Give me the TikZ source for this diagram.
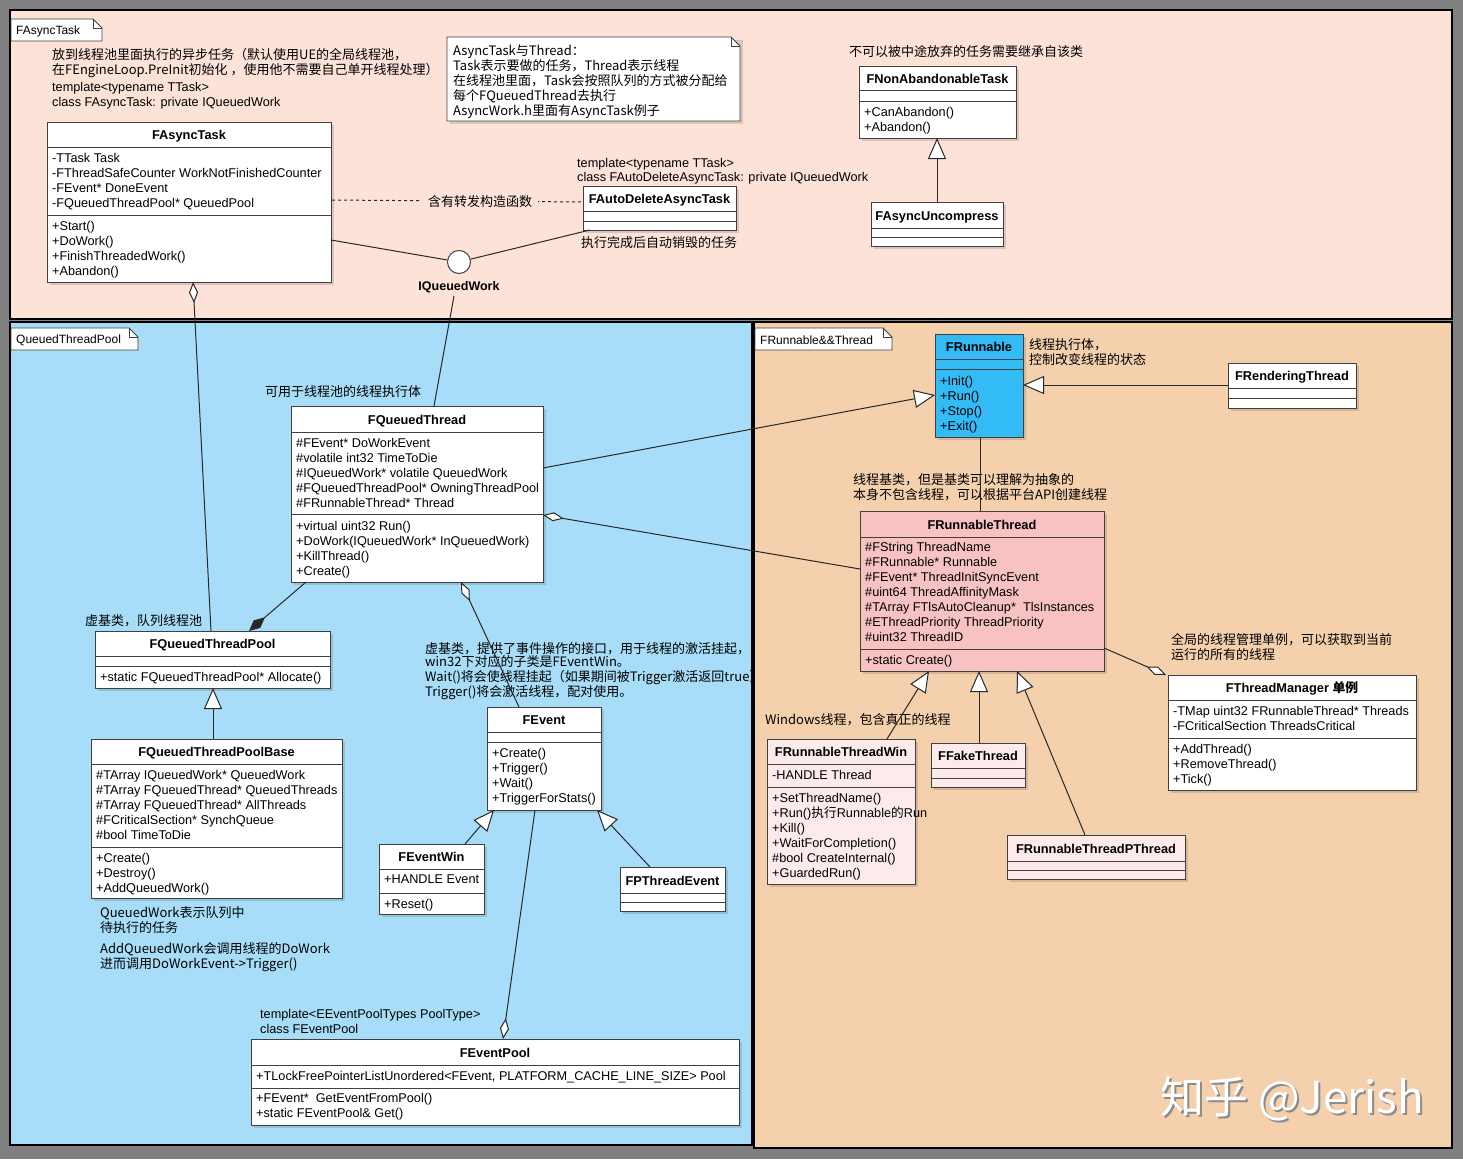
\documentclass[tikz,border=0pt]{standalone}
\usepackage{fontspec}
\setmainfont{Liberation Sans}
\newfontfamily\cjk{Noto Sans CJK SC}
\usetikzlibrary{arrows.meta,calc,fit}
\definecolor{bggray}{RGB}{128,128,128}
\definecolor{pinkbg}{RGB}{253,226,216}
\definecolor{bluebg}{RGB}{167,221,248}
\definecolor{orangebg}{RGB}{244,208,172}
\definecolor{runblue}{RGB}{51,187,245}
\definecolor{rtpink}{RGB}{248,194,194}
\definecolor{lpink}{RGB}{253,235,235}
\definecolor{clsborder}{RGB}{64,64,64}
\definecolor{linec}{RGB}{40,40,40}
\tikzset{
  pkgframe/.style={draw=black, line width=2pt},
  tabline/.style={draw=clsborder, line width=0.8pt},
  tabtext/.style={anchor=west, inner sep=0pt, font=\fontsize{12}{14}\selectfont},
  clsbox/.style={draw=clsborder, line width=1pt, inner sep=0pt, outer sep=0pt},
  clsline/.style={draw=clsborder, line width=1pt},
  ctitle/.style={anchor=base, inner sep=0pt, font=\fontsize{12.8}{15}\selectfont\bfseries},
  mem/.style={anchor=north west, inner sep=0pt, align=left, font=\fontsize{12.7}{15}\selectfont},
  zh/.style={anchor=north west, inner sep=0pt, align=left, font=\cjk\fontsize{13}{15}\selectfont},
  lat/.style={anchor=north west, inner sep=0pt, align=left, font=\fontsize{12.7}{15}\selectfont},
  conn/.style={draw=linec, line width=1pt},
  inherit/.style={conn, -{Triangle[length=21pt, width=18pt, fill=white]}},
  agg/.style={conn, -{Diamond[length=21pt, width=9pt, fill=white]}},
  comp/.style={conn, -{Diamond[length=21pt, width=10pt, fill=linec]}},
}
% name, fill, x1, y1, x2, y2, sep1, sep2, title
\newcommand\umlcls[9]{%
  \fill[black, opacity=0.13] (#3+3,#4+3) rectangle (#5+3,#6+3);
  \node[clsbox, fill=#2, fit={(#3,#4) (#5,#6)}] (#1) {};
  \draw[clsline] (#3,#7) -- (#5,#7) (#3,#8) -- (#5,#8);
  \node[ctitle] (#1-title) at ({(#3+#5)/2},{(#4+#7)/2+5}) {#9};
}
\begin{document}
\begin{tikzpicture}[x=1pt,y=-1pt]
\useasboundingbox (0,0) rectangle (1463,1159);
\fill[bggray] (0,0) rectangle (1463,1159);

% ---------- package frames ----------
\draw[pkgframe, fill=pinkbg] (10,10) rectangle (1452,319);
\draw[pkgframe, fill=bluebg] (10,322) rectangle (752,1145);
\draw[pkgframe, fill=orangebg] (754,322) rectangle (1452,1148);

\draw[tabline, fill=white] (11,19) -- (93,19) -- (102,28) -- (102,41) -- (11,41) -- cycle;
\draw[tabline] (93,19) -- (93,28) -- (102,28);
\node[tabtext] (tab1) at (16,31) {FAsyncTask};
\draw[tabline, fill=white] (11,328) -- (129,328) -- (138,337) -- (138,350) -- (11,350) -- cycle;
\draw[tabline] (129,328) -- (129,337) -- (138,337);
\node[tabtext] (tab2) at (16,340) {QueuedThreadPool};
\draw[tabline, fill=white] (755,328) -- (883,328) -- (892,337) -- (892,350) -- (755,350) -- cycle;
\draw[tabline] (883,328) -- (883,337) -- (892,337);
\node[tabtext] (tab3) at (760,340) {FRunnable\&\&Thread};

% ---------- note ----------
\fill[black, opacity=0.13] (450,40) rectangle (743,124);
\draw[tabline, fill=white] (447,37) -- (731,37) -- (740,46) -- (740,121) -- (447,121) -- cycle;
\draw[tabline] (731,37) -- (731,46) -- (740,46);
\node[zh, font=\cjk\fontsize{13}{14.8}\selectfont] (ntask) at (453,45) {AsyncTask与Thread：\\Task表示要做的任务，Thread表示线程\\在线程池里面，Task会按照队列的方式被分配给\\每个FQueuedThread去执行\\AsyncWork.h里面有AsyncTask例子};

% ---------- classes ----------
\umlcls{fasync}{white}{47}{122}{331}{282}{147}{215}{FAsyncTask}
\node[mem] (fasync-a) at (52,153) {-TTask Task\\-FThreadSafeCounter WorkNotFinishedCounter\\-FEvent* DoneEvent\\-FQueuedThreadPool* QueuedPool};
\node[mem] (fasync-m) at (52,221) {+Start()\\+DoWork()\\+FinishThreadedWork()\\+Abandon()};

\umlcls{fnonab}{white}{859}{66}{1016}{138}{90}{101}{FNonAbandonableTask}
\node[mem] (fnonab-m) at (864,107) {+CanAbandon()\\+Abandon()};
\umlcls{fasyncun}{white}{871}{202}{1003}{246}{228}{237}{FAsyncUncompress}
\umlcls{fadel}{white}{583}{186}{736}{230}{211}{221}{FAutoDeleteAsyncTask}

\node[circle, draw=clsborder, fill=white, line width=1pt, minimum size=23pt, inner sep=0pt] (iqw) at (459,262) {};
\node[inner sep=1pt, font=\fontsize{12.5}{15}\selectfont\bfseries] (iqwl) at (459,287) {IQueuedWork};

\umlcls{fqt}{white}{291}{406}{543}{582}{432}{514}{FQueuedThread}
\node[mem] (fqt-a) at (296,438) {\#FEvent* DoWorkEvent\\\#volatile int32 TimeToDie\\\#IQueuedWork* volatile QueuedWork\\\#FQueuedThreadPool* OwningThreadPool\\\#FRunnableThread* Thread};
\node[mem] (fqt-m) at (296,521) {+virtual uint32 Run()\\+DoWork(IQueuedWork* InQueuedWork)\\+KillThread()\\+Create()};

\umlcls{fqtp}{white}{95}{631}{330}{688}{656}{666}{FQueuedThreadPool}
\node[mem] (fqtp-m) at (100,672) {+static FQueuedThreadPool* Allocate()};

\umlcls{fqtpb}{white}{91}{739}{342}{898}{764}{847}{FQueuedThreadPoolBase}
\node[mem] (fqtpb-a) at (96,770) {\#TArray IQueuedWork* QueuedWork\\\#TArray FQueuedThread* QueuedThreads\\\#TArray FQueuedThread* AllThreads\\\#FCriticalSection* SynchQueue\\\#bool TimeToDie};
\node[mem] (fqtpb-m) at (96,853) {+Create()\\+Destroy()\\+AddQueuedWork()};

\umlcls{fevent}{white}{487}{707}{601}{810}{732}{742}{FEvent}
\node[mem] (fevent-m) at (492,748) {+Create()\\+Trigger()\\+Wait()\\+TriggerForStats()};

\umlcls{feventwin}{white}{379}{844}{484}{914}{869}{893}{FEventWin}
\node[mem] (feventwin-a) at (384,875) {+HANDLE Event};
\node[mem] (feventwin-m) at (384,899) {+Reset()};

\umlcls{fpthreadev}{white}{620}{867}{725}{911}{893}{902}{FPThreadEvent}

\umlcls{feventpool}{white}{251}{1039}{739}{1125}{1065}{1088}{FEventPool}
\node[mem] (feventpool-a) at (256,1071) {+TLockFreePointerListUnordered<FEvent, PLATFORM\_CACHE\_LINE\_SIZE> Pool};
\node[mem] (feventpool-m) at (256,1093) {+FEvent*\ \ GetEventFromPool()\\+static FEventPool\& Get()};

\umlcls{frunnable}{runblue}{935}{334}{1023}{437}{359}{369}{FRunnable}
\node[mem] (frunnable-m) at (940,376) {+Init()\\+Run()\\+Stop()\\+Exit()};

\umlcls{frender}{white}{1228}{363}{1356}{408}{388}{398}{FRenderingThread}

\umlcls{frt}{rtpink}{860}{511}{1104}{671}{537}{649}{FRunnableThread}
\node[mem] (frt-a) at (865,542) {\#FString ThreadName\\\#FRunnable* Runnable\\\#FEvent* ThreadInitSyncEvent\\\#uint64 ThreadAffinityMask\\\#TArray FTlsAutoCleanup*\ \ TlsInstances\\\#EThreadPriority ThreadPriority\\\#uint32 ThreadID};
\node[mem] (frt-m) at (865,655) {+static Create()};

\umlcls{ftm}{white}{1168}{675}{1416}{790}{700}{738}{FThreadManager {\cjk 单例}}
\node[mem] (ftm-a) at (1173,706) {-TMap uint32 FRunnableThread* Threads\\-FCriticalSection ThreadsCritical};
\node[mem] (ftm-m) at (1173,744) {+AddThread()\\+RemoveThread()\\+Tick()};

\umlcls{frtwin}{lpink}{767}{739}{915}{884}{764}{787}{FRunnableThreadWin}
\node[mem] (frtwin-a) at (772,770) {-HANDLE Thread};
\node[mem] (frtwin-m) at (772,793) {+SetThreadName()\\+Run(){\cjk 执行}Runnable{\cjk 的}Run\\+Kill()\\+WaitForCompletion()\\\#bool CreateInternal()\\+GuardedRun()};

\umlcls{ffake}{lpink}{931}{743}{1025}{787}{768}{778}{FFakeThread}
\umlcls{frtp}{lpink}{1007}{835}{1185}{879}{861}{870}{FRunnableThreadPThread}

% ---------- free texts ----------
\node[zh] (tasyncdesc) at (52,48) {放到线程池里面执行的异步任务（默认使用UE的全局线程池，\\在FEngineLoop.PreInit初始化 ，使用他不需要自己单开线程处理）};
\node[lat] (tasynctpl) at (52,82) {template<typename TTask>\\class FAsyncTask: private IQueuedWork};
\node[zh] (tnonab) at (849,45) {不可以被中途放弃的任务需要继承自该类};
\node[lat, font=\fontsize{12.7}{14.5}\selectfont] (tadeltpl) at (577,158) {template<typename TTask>\\class FAutoDeleteAsyncTask: private IQueuedWork};
\node[zh] (tadeldesc) at (581,236) {执行完成后自动销毁的任务};
\node[zh] (tqtdesc) at (265,385) {可用于线程池的线程执行体};
\node[zh] (tqtpdesc) at (85,614) {虚基类，队列线程池};
\node[zh] (teventdesc) at (425,642) {虚基类，提供了事件操作的接口，用于线程的激活挂起，\\[-2pt]win32下对应的子类是FEventWin。\\Wait()将会使线程挂起（如果期间被Trigger激活返回true）\\Trigger()将会激活线程，配对使用。};
\node[zh] (tqwdesc) at (100,906) {QueuedWork表示队列中\\待执行的任务};
\node[zh] (taqwdesc) at (100,942) {AddQueuedWork会调用线程的DoWork\\进而调用DoWorkEvent->Trigger()};
\node[lat] (tpooltpl) at (260,1009) {template<EEventPoolTypes PoolType>\\class FEventPool};
\node[zh] (trunnabledesc) at (1029,338) {线程执行体，\\控制改变线程的状态};
\node[zh] (tfrtdesc) at (853,473) {线程基类，但是基类可以理解为抽象的\\本身不包含线程，可以根据平台API创建线程};
\node[zh] (tftmdesc) at (1171,633) {全局的线程管理单例，可以获取到当前\\运行的所有的线程};
\node[zh] (twindesc) at (765,713) {Windows线程，包含真正的线程};

% ---------- helper coordinates ----------
\coordinate (runbot) at ($(frunnable.south)+(1,0)$);
\coordinate (faketop) at ($(ffake.north west)+(48,0)$);

% ---------- connectors ----------
\draw[conn] ($(fasync.north east)+(0,118)$) -- (iqw);
\draw[conn] (iqw) -- ($(fadel.south west)+(7,0)$);
\draw[conn] ($(iqwl.south)+(-5,2)$) -- ($(fqt.north west)+(143,0)$);
\draw[conn, dash pattern=on 3pt off 3pt] ($(fasync.north east)+(1,78)$) -- node[pos=0.59, fill=pinkbg, inner xsep=6pt, inner ysep=1pt, font=\cjk\fontsize{13}{15}\selectfont] (dlabel) {含有转发构造函数} ($(fadel.north west)+(0,16)$);
\draw[inherit] (fasyncun.north) -- (fasyncun.north |- fnonab.south);

\draw[agg] ($(fqtp.north west)+(116,0)$) -- ($(fasync.south west)+(146,0)$);
\draw[comp] ($(fqt.south west)+(15,0)$) -- ($(fqtp.north west)+(154,0)$);
\draw[inherit] ($(fqtpb.north west)+(122,0)$) -- ($(fqtp.south west)+(118,0)$);
\draw[agg] ($(fevent.north west)+(32,0)$) -- ($(fqt.south west)+(170,0)$);
\draw[inherit] ($(feventwin.north west)+(86,0)$) -- ($(fevent.south west)+(7,0)$);
\draw[inherit] ($(fpthreadev.north west)+(30,0)$) -- ($(fevent.south east)+(-4,0)$);
\draw[agg] ($(fevent.south west)+(48,0)$) -- ($(feventpool.north west)+(252,0)$);

\draw[inherit] ($(fqt.north east)+(0,62)$) -- ($(frunnable.north west)+(0,61)$);
\draw[inherit] ($(frender.north west)+(0,22)$) -- ($(frunnable.north east)+(0,51)$);
\draw[conn] (runbot) -- (runbot |- frt.north);
\draw[agg] ($(frt.north west)+(0,58)$) -- ($(fqt.north east)+(0,109)$);
\draw[agg] ($(frt.north east)+(0,137)$) -- ($(ftm.north west)+(-2,0)$);
\draw[inherit] ($(frtwin.north west)+(120,0)$) -- ($(frt.south west)+(69,0)$);
\draw[inherit] (faketop) -- (faketop |- frt.south);
\draw[inherit] ($(frtp.north west)+(78,0)$) -- ($(frt.south west)+(157,0)$);

% ---------- watermark ----------
\node[anchor=west, inner sep=0pt, text=black!45, font=\cjk\fontsize{44}{48}\selectfont] (wmshadow) at (1162,1101) {知乎 @Jerish};
\node[anchor=west, inner sep=0pt, text=white, font=\cjk\fontsize{44}{48}\selectfont] (wm) at (1160,1099) {知乎 @Jerish};
\end{tikzpicture}
\end{document}
